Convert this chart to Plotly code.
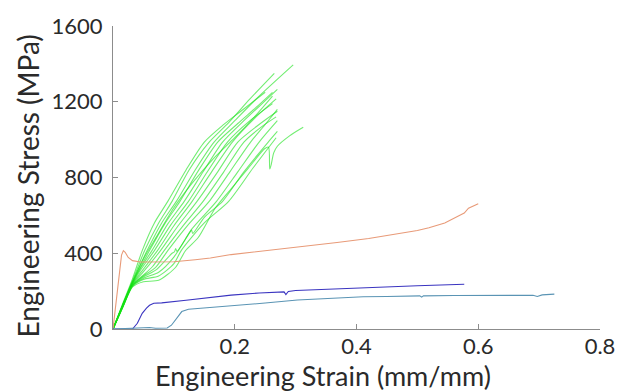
import plotly.graph_objects as go

# ---------------- data ----------------
green_x = [
    [0, 0.016, 0.032, 0.048, 0.068, 0.09, 0.12, 0.15, 0.18, 0.21, 0.25],
    [0, 0.016, 0.032, 0.052, 0.075, 0.097, 0.125, 0.158, 0.19, 0.225, 0.265],
    [0, 0.016, 0.032, 0.056, 0.08, 0.104, 0.135, 0.166, 0.2, 0.24, 0.296],
    [0, 0.016, 0.032, 0.06, 0.085, 0.11, 0.14, 0.172, 0.205, 0.235, 0.262],
    [0, 0.016, 0.032, 0.045, 0.064, 0.09, 0.117, 0.148, 0.18, 0.215, 0.245, 0.27],
    [0, 0.016, 0.032, 0.045, 0.068, 0.095, 0.124, 0.155, 0.188, 0.225, 0.262],
    [0, 0.016, 0.032, 0.046, 0.073, 0.1, 0.13, 0.162, 0.196, 0.235, 0.268],
    [0, 0.016, 0.032, 0.048, 0.078, 0.107, 0.138, 0.172, 0.205, 0.24, 0.27],
    [0, 0.016, 0.032, 0.05, 0.065, 0.084, 0.115, 0.148, 0.182, 0.215, 0.245, 0.268],
    [0, 0.016, 0.032, 0.05, 0.07, 0.09, 0.122, 0.158, 0.192, 0.226, 0.25, 0.27],
    [0, 0.016, 0.032, 0.05, 0.072, 0.097, 0.101, 0.103, 0.105, 0.13, 0.17, 0.205, 0.24, 0.27],
    [0, 0.016, 0.032, 0.05, 0.075, 0.1, 0.125, 0.129, 0.131, 0.15, 0.18, 0.215, 0.255, 0.27],
    [0, 0.016, 0.032, 0.05, 0.075, 0.1, 0.112, 0.15, 0.19, 0.23, 0.268],
    [0, 0.016, 0.032, 0.05, 0.075, 0.103, 0.119, 0.14, 0.168, 0.195, 0.222, 0.249,
     0.2555, 0.2575, 0.26, 0.264, 0.27, 0.29, 0.3125],
    [0, 0.016, 0.032, 0.05, 0.07, 0.1, 0.13, 0.165, 0.2, 0.235, 0.262],
]
green_y = [
    [0, 135, 265, 414, 560, 674, 840, 987, 1075, 1150, 1250],
    [0, 130, 255, 414, 560, 674, 840, 987, 1090, 1215, 1350],
    [0, 128, 250, 414, 560, 674, 840, 987, 1100, 1230, 1395],
    [0, 125, 245, 414, 555, 674, 835, 987, 1085, 1170, 1250],
    [0, 125, 245, 320, 414, 555, 674, 830, 987, 1100, 1190, 1265],
    [0, 122, 240, 310, 414, 550, 674, 830, 987, 1100, 1190],
    [0, 122, 240, 300, 414, 545, 674, 830, 987, 1120, 1215],
    [0, 120, 238, 295, 414, 545, 674, 830, 987, 1080, 1150],
    [0, 120, 235, 285, 330, 414, 545, 674, 830, 987, 1070, 1120],
    [0, 118, 232, 280, 325, 414, 545, 674, 830, 987, 1080, 1160],
    [0, 118, 230, 275, 315, 400, 408, 425, 410, 530, 674, 830, 987, 1100],
    [0, 116, 228, 268, 300, 380, 505, 522, 505, 590, 674, 830, 987, 1043],
    [0, 115, 225, 262, 280, 345, 414, 560, 674, 850, 1010],
    [0, 114, 222, 250, 257, 326, 413, 483, 639, 744, 848, 952,
     960, 845, 870, 930, 965, 1020, 1065],
    [0, 126, 248, 370, 480, 640, 770, 900, 1010, 1130, 1230],
]

orange_x = [0, 0.005, 0.01, 0.014, 0.017, 0.02, 0.025, 0.032, 0.045, 0.07, 0.1, 0.135,
            0.16, 0.194, 0.24, 0.281, 0.33, 0.368, 0.42, 0.465, 0.5, 0.519, 0.545,
            0.573, 0.577, 0.584, 0.600]
orange_y = [0, 140, 290, 390, 414, 405, 378, 361, 354, 353, 355, 366,
            375, 393, 410, 422, 440, 457, 478, 500, 520, 535, 560,
            606, 612, 638, 662]

blue_x = [0, 0.032, 0.04, 0.048, 0.055, 0.06, 0.067, 0.08, 0.12, 0.194, 0.24,
          0.281, 0.284, 0.288, 0.3, 0.411, 0.5, 0.577]
blue_y = [0, 0, 30, 83, 110, 125, 136, 138, 152, 179, 190,
          196, 182, 198, 203, 219, 228, 236]

teal_x = [0, 0.03, 0.05, 0.06, 0.07, 0.08, 0.089, 0.096, 0.103, 0.108, 0.113, 0.124,
          0.15, 0.194, 0.25, 0.303, 0.36, 0.411, 0.45, 0.504, 0.507, 0.51, 0.56,
          0.627, 0.69, 0.697, 0.705, 0.725]
teal_y = [0, 2, 5, 8, 4, 6, 5, 20, 48, 72, 92, 104,
          110, 121, 137, 153, 162, 170, 172, 175, 168, 175, 177,
          179, 178, 172, 180, 184]

x_tickvals = [0.2, 0.4, 0.6, 0.8]
x_ticktext = ["0.2", "0.4", "0.6", "0.8"]
y_tickvals = [0, 400, 800, 1200, 1600]
y_ticktext = ["0", "400", "800", "1200", "1600"]

# ---------------- figure ----------------
fig = go.Figure()
for gx, gy in zip(green_x, green_y):
    fig.add_trace(go.Scatter(x=gx, y=gy, mode="lines", line_shape="spline",
                             line=dict(color="rgba(20,225,20,0.6)", width=1.1,
                                       smoothing=0.7),
                             showlegend=False, hoverinfo="skip"))
fig.add_trace(go.Scatter(x=orange_x, y=orange_y, mode="lines",
                         line=dict(color="#e89a78", width=1.1), showlegend=False))
fig.add_trace(go.Scatter(x=blue_x, y=blue_y, mode="lines",
                         line=dict(color="#3a34c0", width=1.1), showlegend=False))
fig.add_trace(go.Scatter(x=teal_x, y=teal_y, mode="lines",
                         line=dict(color="#5a94b4", width=1.1), showlegend=False))

font_fam = "Lato, 'Open Sans', sans-serif"
txt_col = "#2a2a2a"
axis_common = dict(showline=True, linecolor="#8c8c8c", linewidth=1,
                   ticks="inside", ticklen=5, tickcolor="#8c8c8c", tickwidth=1,
                   showgrid=False, zeroline=False,
                   tickfont=dict(family=font_fam, size=22, color=txt_col))
fig.update_xaxes(range=[0, 0.8], tickvals=x_tickvals, ticktext=x_ticktext,
                 ticklabelstandoff=-2, **axis_common)
fig.update_yaxes(range=[0, 1600], tickvals=y_tickvals, ticktext=y_ticktext,
                 ticklabelstandoff=5, **axis_common)

fig.update_layout(
    width=627, height=391,
    margin=dict(l=113, r=21, t=23, b=62),
    paper_bgcolor="white", plot_bgcolor="white",
    annotations=[
        dict(text="Engineering Strain (mm/mm)", xref="paper", yref="paper",
             x=(326 - 113) / 493, y=-(376 - 329) / 306, xanchor="center", yanchor="middle",
             showarrow=False, font=dict(family=font_fam, size=27, color=txt_col)),
        dict(text="Engineering Stress (MPa)", xref="paper", yref="paper",
             x=-(113 - 27) / 493, y=(329 - 185) / 306, xanchor="center", yanchor="middle",
             textangle=-90, showarrow=False,
             font=dict(family=font_fam, size=28, color=txt_col)),
    ],
)

fig.write_html("out.html")
